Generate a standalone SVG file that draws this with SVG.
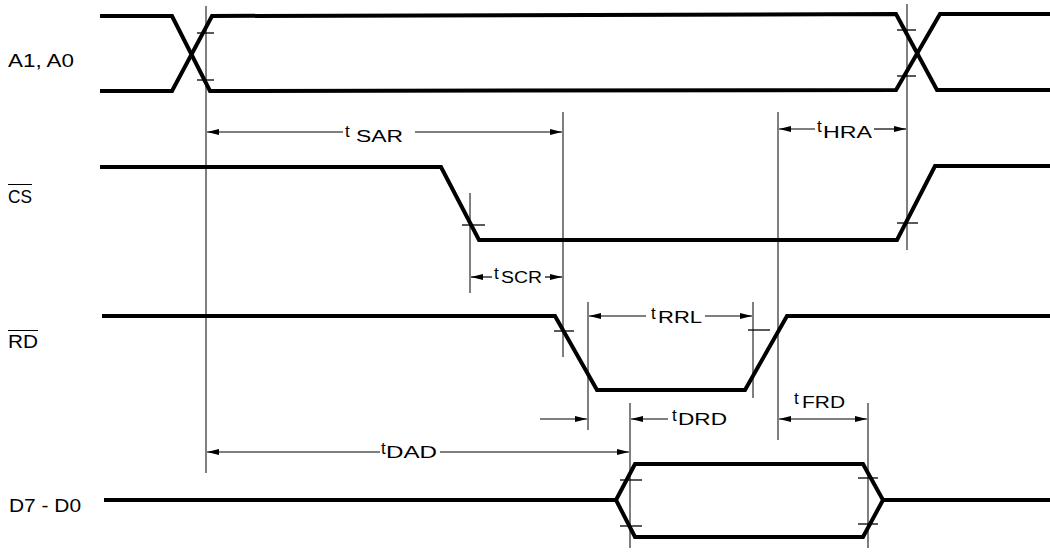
<svg xmlns="http://www.w3.org/2000/svg" width="1050" height="555" viewBox="0 0 1050 555">
<style>
.sig{fill:none;stroke:#000;stroke-width:4;stroke-linejoin:miter;stroke-linecap:butt}
.ref{fill:none;stroke:#000;stroke-width:1}
.tick{fill:none;stroke:#000;stroke-width:1.3}
.dim{fill:none;stroke:#000;stroke-width:1.2}
.lbl{font-family:"Liberation Sans",Arial,sans-serif;font-size:18px;fill:#000}
.t{font-family:"Liberation Sans",Arial,sans-serif;font-size:16px;fill:#000}
.tt{font-family:"Liberation Sans",Arial,sans-serif;font-size:17px;fill:#000}
</style>
<defs>
<marker id="ah" markerUnits="userSpaceOnUse" markerWidth="13" markerHeight="8" refX="12" refY="3.5" orient="auto-start-reverse">
<path d="M0,0.6 L12,3.5 L0,6.4 Z" fill="#000"/>
</marker>
</defs>
<rect width="1050" height="555" fill="#fff"/>

<g id="labels">
<text class="lbl" x="8" y="67" textLength="66" lengthAdjust="spacingAndGlyphs">A1, A0</text>
<text class="lbl" x="8" y="203" textLength="24" lengthAdjust="spacingAndGlyphs">CS</text>
<line class="ref" x1="8" y1="184.5" x2="32" y2="184.5"/>
<text class="lbl" x="8" y="348" textLength="30" lengthAdjust="spacingAndGlyphs">RD</text>
<line class="ref" x1="8" y1="330.5" x2="38" y2="330.5"/>
<text class="lbl" x="9" y="512" textLength="72" lengthAdjust="spacingAndGlyphs">D7 - D0</text>
</g>

<g id="sig-a">
<polyline class="sig" points="100,16 172,16 210,91 896,90 940,14 1050,14"/>
<polyline class="sig" points="100,91 172,91 212,16 896,14 937,90 1050,90"/>
</g>
<g id="sig-cs">
<polyline class="sig" points="100,167 441,167 479,240 897,240 935,166 1050,166"/>
</g>
<g id="sig-rd">
<polyline class="sig" points="102,316 555,316 597,390 745,390 787,316 1050,316"/>
</g>
<g id="sig-d">
<line class="sig" x1="104" y1="500" x2="616" y2="500"/>
<polygon class="sig" points="616,500 635,464 863,464 883,500 863,537 635,537"/>
<line class="sig" x1="883" y1="500" x2="1050" y2="500"/>
</g>

<g id="ticks">
<line class="tick" x1="197" y1="33" x2="214" y2="33"/>
<line class="tick" x1="197" y1="80" x2="214" y2="80"/>
<line class="tick" x1="897" y1="30" x2="916" y2="30"/>
<line class="tick" x1="897" y1="76" x2="916" y2="76"/>
<line class="tick" x1="462" y1="225" x2="485" y2="225"/>
<line class="tick" x1="897" y1="223" x2="918" y2="223"/>
<line class="tick" x1="554" y1="331" x2="574" y2="331"/>
<line class="tick" x1="748" y1="330" x2="770" y2="330"/>
<line class="tick" x1="620" y1="480" x2="642" y2="480"/>
<line class="tick" x1="620" y1="526" x2="642" y2="526"/>
<line class="tick" x1="858" y1="478" x2="878" y2="478"/>
<line class="tick" x1="858" y1="524" x2="878" y2="524"/>
</g>

<g id="connectors">
<line class="ref" x1="206" y1="6" x2="206" y2="473"/>
<line class="ref" x1="907" y1="4" x2="907" y2="250"/>
<line class="ref" x1="563" y1="112" x2="563" y2="357"/>
<line class="ref" x1="778" y1="112" x2="778" y2="440"/>
<line class="ref" x1="470" y1="193" x2="470" y2="293"/>
<line class="ref" x1="588" y1="302" x2="588" y2="430"/>
<line class="ref" x1="753" y1="302" x2="753" y2="398"/>
<line class="ref" x1="630" y1="403" x2="630" y2="548"/>
<line class="ref" x1="868" y1="403" x2="868" y2="548"/>

<line class="dim" x1="343" y1="132" x2="207" y2="132" marker-end="url(#ah)"/>
<line class="dim" x1="415" y1="132" x2="562" y2="132" marker-end="url(#ah)"/>
<line class="dim" x1="815" y1="129" x2="779" y2="129" marker-end="url(#ah)"/>
<line class="dim" x1="874" y1="129" x2="906" y2="129" marker-end="url(#ah)"/>
<line class="dim" x1="492" y1="277" x2="471" y2="277" marker-end="url(#ah)"/>
<line class="dim" x1="545" y1="277" x2="562" y2="277" marker-end="url(#ah)"/>
<line class="dim" x1="646" y1="316" x2="589" y2="316" marker-end="url(#ah)"/>
<line class="dim" x1="705" y1="316" x2="752" y2="316" marker-end="url(#ah)"/>
<line class="dim" x1="540" y1="419" x2="587" y2="419" marker-end="url(#ah)"/>
<line class="dim" x1="668" y1="419" x2="631" y2="419" marker-end="url(#ah)"/>
<line class="dim" x1="779" y1="419" x2="867" y2="419" marker-start="url(#ah)" marker-end="url(#ah)"/>
<line class="dim" x1="380" y1="452" x2="207" y2="452" marker-end="url(#ah)"/>
<line class="dim" x1="440" y1="452" x2="629" y2="452" marker-end="url(#ah)"/>
</g>

<g id="timing-labels">
<text class="tt" x="345" y="137">t</text><text class="t" x="356" y="142" textLength="47" lengthAdjust="spacingAndGlyphs">SAR</text>
<text class="tt" x="817" y="132">t</text><text class="t" x="823" y="138" textLength="49" lengthAdjust="spacingAndGlyphs">HRA</text>
<text class="tt" x="494" y="279">t</text><text class="t" x="501" y="283" textLength="41" lengthAdjust="spacingAndGlyphs">SCR</text>
<text class="tt" x="651" y="319">t</text><text class="t" x="658" y="323" textLength="44" lengthAdjust="spacingAndGlyphs">RRL</text>
<text class="tt" x="672" y="421">t</text><text class="t" x="678" y="425" textLength="49" lengthAdjust="spacingAndGlyphs">DRD</text>
<text class="tt" x="794" y="404">t</text><text class="t" x="802" y="408" textLength="43" lengthAdjust="spacingAndGlyphs">FRD</text>
<text class="tt" x="381" y="454">t</text><text class="t" x="386" y="458" textLength="51" lengthAdjust="spacingAndGlyphs">DAD</text>
</g>
</svg>
